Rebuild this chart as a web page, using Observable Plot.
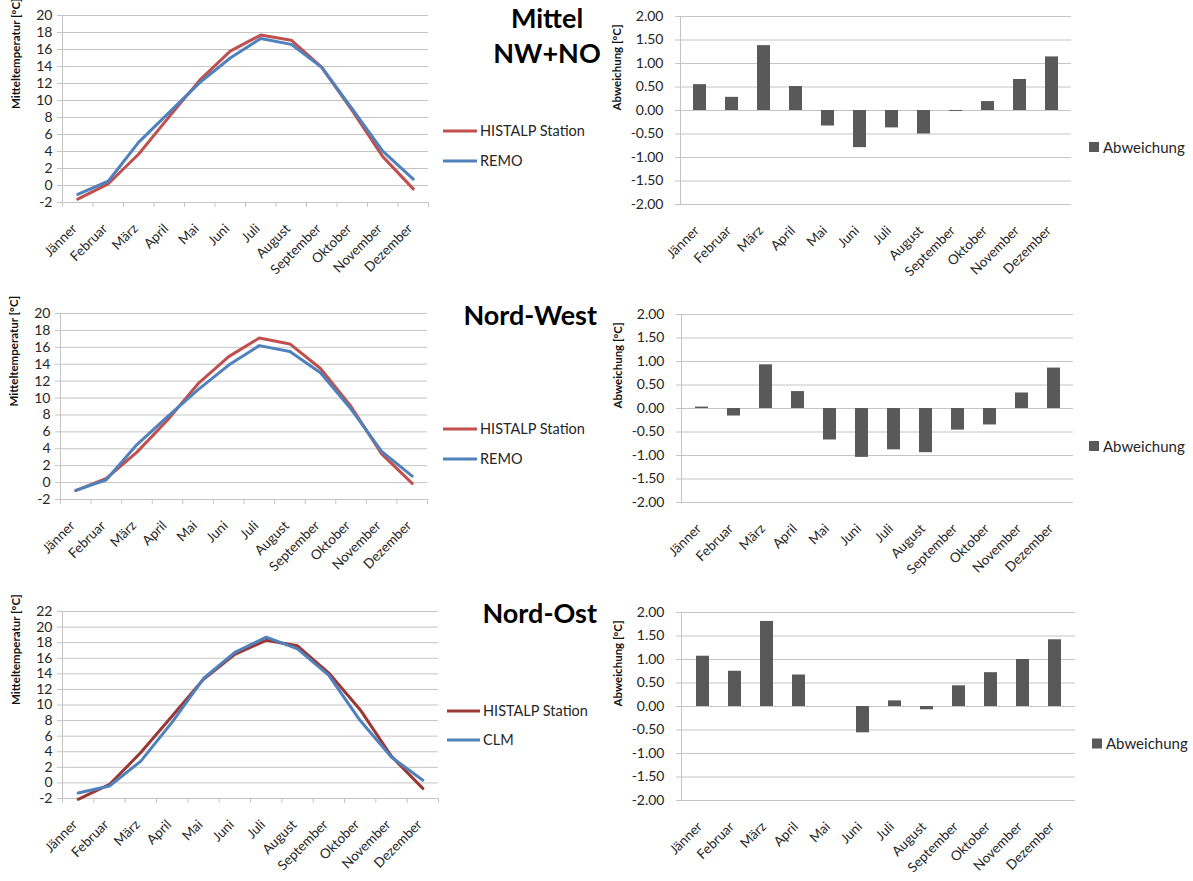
<!DOCTYPE html>
<html>
<head>
<meta charset="utf-8">
<script src="https://cdn.jsdelivr.net/npm/d3@7"></script>
<script src="https://cdn.jsdelivr.net/npm/@observablehq/plot@0.6"></script>
<style>
  body { margin: 0; background: #fff; }
  #root { position: relative; width: 1193px; height: 881px; overflow: hidden; font-family: Lato, "Open Sans", sans-serif; }
  .panel { position: absolute; }
  .panel svg { display: block; }
</style>
</head>
<body>
<div id="root"></div>
<script>
// ---------- data ----------
const months = ["Jänner", "Februar", "März", "April", "Mai", "Juni", "Juli", "August", "September", "Oktober", "November", "Dezember"];

// Mittel NW+NO
const mittelHistalp = [-1.6, 0.2, 3.7, 8.1, 12.4, 15.8, 17.7, 17.1, 13.9, 8.8, 3.4, -0.4];
const mittelRemo    = [-1.05, 0.5, 5.1, 8.6, 12.1, 15.0, 17.3, 16.6, 13.9, 9.0, 4.05, 0.75];
const mittelDiff    = [0.55, 0.28, 1.38, 0.51, -0.33, -0.79, -0.37, -0.50, -0.02, 0.19, 0.66, 1.14];

// Nord-West
const nwHistalp = [-0.95, 0.5, 3.6, 7.4, 11.7, 14.9, 17.1, 16.4, 13.5, 9.0, 3.4, -0.1];
const nwRemo    = [-0.92, 0.34, 4.5, 7.8, 11.0, 13.9, 16.2, 15.5, 13.0, 8.7, 3.7, 0.76];
const nwDiff    = [0.03, -0.16, 0.93, 0.36, -0.67, -1.04, -0.88, -0.94, -0.46, -0.35, 0.33, 0.86];

// Nord-Ost
const noHistalp = [-2.1, -0.2, 3.9, 8.6, 13.3, 16.5, 18.3, 17.6, 14.1, 9.4, 3.4, -0.7];
const noClm     = [-1.3, -0.4, 2.8, 7.8, 13.4, 16.75, 18.7, 17.2, 13.8, 8.0, 3.3, 0.35];
const noDiff    = [1.07, 0.75, 1.81, 0.67, 0.0, -0.56, 0.12, -0.07, 0.44, 0.72, 1.00, 1.42];

const titles = [["Mittel", "NW+NO"], ["Nord-West"], ["Nord-Ost"]];
const seriesNames = [["HISTALP Station", "REMO"], ["HISTALP Station", "REMO"], ["HISTALP Station", "CLM"]];
const barSeriesName = "Abweichung";
const lineYLabel = "Mitteltemperatur [°C]";
const barYLabel = "Abweichung [°C]";

// ---------- styles ----------
const GRID = "#c4c4c4";
const TEXT = "#262626";
const RED = "#C0504D";
const DARKRED = "#9B3835";
const BLUE = "#4F81BD";
const BARFILL = "#595959";
const FONT = "Lato, 'Open Sans', sans-serif";

const root = document.getElementById("root");
function place(el, left, top) {
  const d = document.createElement("div");
  d.className = "panel";
  d.style.left = left + "px";
  d.style.top = top + "px";
  d.appendChild(el);
  root.appendChild(d);
}

function lineChart({hist, model, histColor, yMax, w, h, ml, mr, mt, mb}) {
  const ticks = d3.range(-2, yMax + 0.01, 2);
  const rows = months.map((m, i) => ({i, m, hist: hist[i], model: model[i]}));
  return Plot.plot({
    width: w, height: h,
    marginLeft: ml, marginRight: mr, marginTop: mt, marginBottom: mb,
    style: {fontFamily: FONT, fontSize: "14px", color: TEXT, background: "transparent", overflow: "visible"},
    x: {domain: [0, months.length], axis: null},
    y: {domain: [-2, yMax], axis: null, label: null},
    marks: [
      Plot.gridY(ticks, {stroke: GRID, strokeOpacity: 1}),
      Plot.axisY(ticks, {label: null, tickSize: 5, tickPadding: 5, stroke: GRID, fill: TEXT, tickFormat: d => String(d), fontSize: 14}),
      Plot.frame({anchor: "left", stroke: GRID}),
      Plot.axisX(d3.range(months.length + 1), {label: null, tickSize: 5, stroke: GRID, tickFormat: () => ""}),
      Plot.text(months, {x: (d, i) => i + 0.5, frameAnchor: "bottom", dy: 27, rotate: -45, textAnchor: "end", text: d => d, fill: TEXT, fontSize: 13.5}),
      Plot.text([lineYLabel], {frameAnchor: "left", dx: -46, rotate: -90, text: d => d, fontWeight: "bold", fontSize: 11.5, fill: "#111"}),
      Plot.line(rows, {x: d => d.i + 0.5, y: "hist", stroke: histColor, strokeWidth: 3}),
      Plot.line(rows, {x: d => d.i + 0.5, y: "model", stroke: BLUE, strokeWidth: 3})
    ]
  });
}

function barChart({diff, w, h, ml, mr, mt, mb}) {
  const ticks = d3.range(-2, 2.01, 0.5);
  const rows = months.map((m, i) => ({m, v: diff[i]}));
  return Plot.plot({
    width: w, height: h,
    marginLeft: ml, marginRight: mr, marginTop: mt, marginBottom: mb,
    style: {fontFamily: FONT, fontSize: "14px", color: TEXT, background: "transparent", overflow: "visible"},
    x: {domain: months, paddingInner: 0.6, paddingOuter: 0.3, axis: null, label: null},
    y: {domain: [-2, 2], axis: null, label: null},
    marks: [
      Plot.gridY(ticks, {stroke: GRID, strokeOpacity: 1}),
      Plot.axisY(ticks, {label: null, tickSize: 5, tickPadding: 12, stroke: GRID, fill: TEXT, tickFormat: d => d.toFixed(2), fontSize: 14}),
      Plot.frame({anchor: "left", stroke: GRID}),
      Plot.barY(rows, {x: "m", y: "v", fill: BARFILL}),
      Plot.text(months, {x: d => d, frameAnchor: "bottom", dy: 27, rotate: -45, textAnchor: "end", text: d => d, fill: TEXT, fontSize: 13.5}),
      Plot.text([barYLabel], {frameAnchor: "left", dx: -63, rotate: -90, text: d => d, fontWeight: "bold", fontSize: 11.5, fill: "#111"})
    ]
  });
}

// ---------- left: line charts ----------
place(lineChart({hist: mittelHistalp, model: mittelRemo, histColor: RED, yMax: 20, w: 440, h: 290, ml: 62, mr: 12, mt: 15, mb: 88}), 0, 0);
place(lineChart({hist: nwHistalp, model: nwRemo, histColor: RED, yMax: 20, w: 440, h: 290, ml: 60, mr: 13, mt: 15, mb: 89}), 0, 298);
place(lineChart({hist: noHistalp, model: noClm, histColor: DARKRED, yMax: 22, w: 440, h: 285, ml: 62, mr: 2, mt: 15, mb: 83}), 0, 596);

// ---------- right: bar charts ----------
place(barChart({diff: mittelDiff, w: 480, h: 290, ml: 80, mr: 9, mt: 16, mb: 86}), 600, 0);
place(barChart({diff: nwDiff, w: 480, h: 290, ml: 81, mr: 7, mt: 16, mb: 86}), 600, 298);
place(barChart({diff: noDiff, w: 480, h: 285, ml: 81, mr: 5, mt: 16, mb: 81}), 600, 596);

// ---------- titles & legends overlay ----------
const ov = d3.create("svg").attr("width", 1193).attr("height", 881)
  .style("position", "absolute").style("left", 0).style("top", 0)
  .style("font-family", FONT).style("pointer-events", "none");

function title(x, y, anchor, txt) {
  ov.append("text").attr("x", x).attr("y", y).attr("text-anchor", anchor)
    .attr("font-size", 27).attr("font-weight", "bold").attr("fill", "#000").text(txt);
}
title(547, 28, "middle", titles[0][0]);
title(547, 63, "middle", titles[0][1]);
title(597, 325, "end", titles[1][0]);
title(597, 623, "end", titles[2][0]);

// line legends
const lineLegends = [
  {x1: 443, x2: 477, tx: 480, ys: [131, 161], colors: [RED, BLUE], names: seriesNames[0]},
  {x1: 443, x2: 477, tx: 480, ys: [429, 459], colors: [RED, BLUE], names: seriesNames[1]},
  {x1: 447, x2: 480, tx: 483, ys: [711, 740], colors: [DARKRED, BLUE], names: seriesNames[2]}
];
for (const L of lineLegends) {
  L.ys.forEach((y, k) => {
    ov.append("line").attr("x1", L.x1).attr("x2", L.x2).attr("y1", y).attr("y2", y).attr("stroke", L.colors[k]).attr("stroke-width", 3);
    ov.append("text").attr("x", L.tx).attr("y", y + 5).attr("font-size", 14.5).attr("fill", TEXT).text(L.names[k]);
  });
}

// bar legends
const barLegends = [{x: 1089, y: 147}, {x: 1089, y: 446}, {x: 1092, y: 743.5}];
for (const B of barLegends) {
  ov.append("rect").attr("x", B.x).attr("y", B.y - 5).attr("width", 10).attr("height", 10).attr("fill", BARFILL);
  ov.append("text").attr("x", B.x + 14).attr("y", B.y + 5.5).attr("font-size", 15).attr("fill", TEXT).text(barSeriesName);
}
root.appendChild(ov.node());
</script>
</body>
</html>
